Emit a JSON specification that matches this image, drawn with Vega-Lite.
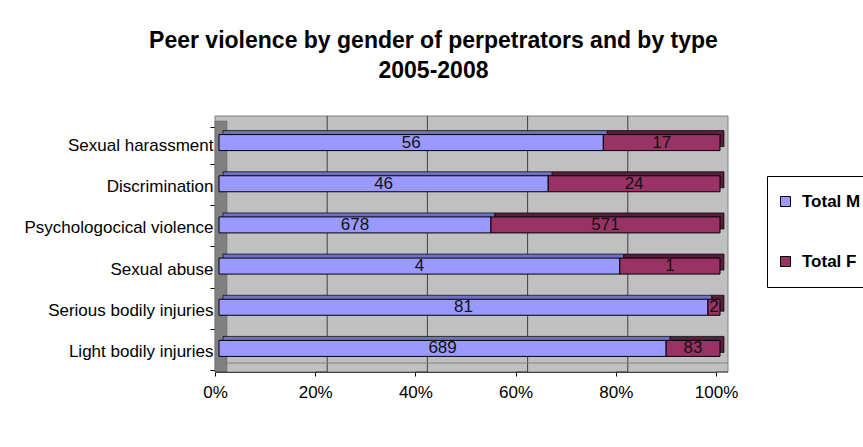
{
  "$schema": "https://vega.github.io/schema/vega-lite/v6.json",
  "width": 501,
  "height": 247,
  "autosize": {"type": "none"},
  "padding": {"left": 215, "top": 125, "right": 147, "bottom": 75},
  "background": "white",
  "title": {
    "text": ["Peer violence by gender of perpetrators and by type", "2005-2008"],
    "anchor": "middle",
    "frame": "group",
    "dx": -32,
    "offset": 33,
    "font": "Liberation Sans",
    "fontSize": 23,
    "fontWeight": "bold",
    "color": "black",
    "lineHeight": 30
  },
  "datasets": {
    "counts": [
      {"type": "Sexual harassment", "sex": "Total M", "n": 56},
      {"type": "Sexual harassment", "sex": "Total F", "n": 17},
      {"type": "Discrimination", "sex": "Total M", "n": 46},
      {"type": "Discrimination", "sex": "Total F", "n": 24},
      {"type": "Psychologocical violence", "sex": "Total M", "n": 678},
      {"type": "Psychologocical violence", "sex": "Total F", "n": 571},
      {"type": "Sexual abuse", "sex": "Total M", "n": 4},
      {"type": "Sexual abuse", "sex": "Total F", "n": 1},
      {"type": "Serious bodily injuries", "sex": "Total M", "n": 81},
      {"type": "Serious bodily injuries", "sex": "Total F", "n": 2},
      {"type": "Light bodily injuries", "sex": "Total M", "n": 689},
      {"type": "Light bodily injuries", "sex": "Total F", "n": 83}
    ],
    "ticks": [{"t": 0}, {"t": 0.2}, {"t": 0.4}, {"t": 0.6}, {"t": 0.8}, {"t": 1}],
    "inner": [{"t": 0.2}, {"t": 0.4}, {"t": 0.6}, {"t": 0.8}],
    "one": [{}]
  },
  "config": {
    "view": {"stroke": null},
    "font": "Liberation Sans",
    "axis": {
      "labelFont": "Liberation Sans",
      "labelFontSize": 17,
      "labelColor": "black",
      "domainColor": "black",
      "tickColor": "black",
      "title": null,
      "grid": false
    },
    "legend": {
      "orient": "none",
      "legendX": 552,
      "legendY": 51,
      "title": null,
      "strokeColor": "black",
      "fillColor": "white",
      "padding": 17,
      "labelFont": "Liberation Sans",
      "labelFontSize": 17,
      "labelFontWeight": "bold",
      "labelColor": "black",
      "symbolType": "square",
      "symbolSize": 100,
      "symbolStrokeWidth": 1,
      "symbolStrokeColor": "black",
      "rowPadding": 42,
      "labelOffset": 8,
      "symbolOffset": -7
    }
  },
  "layer": [
    {
      "data": {"name": "one"},
      "mark": {"type": "rect", "fill": "#C0C0C0", "stroke": "#808080", "strokeWidth": 1, "xOffset": 12, "x2Offset": 12, "yOffset": -9, "y2Offset": 0},
      "encoding": {}
    },
    {
      "data": {"name": "one"},
      "mark": {"type": "rect", "fill": "#808080", "stroke": "#606060", "strokeWidth": 0.5, "x2Offset": 12, "yOffset": -4, "y2Offset": -5},
      "encoding": {
        "x": {"datum": 0, "type": "quantitative"},
        "x2": {"datum": 0}
      }
    },
    {
      "data": {"name": "inner"},
      "mark": {"type": "rule", "color": "#404040", "strokeWidth": 1, "xOffset": 12, "yOffset": -9, "y2Offset": -9},
      "encoding": {"x": {"field": "t", "type": "quantitative"}}
    },
    {
      "data": {"name": "ticks"},
      "mark": {"type": "rule", "color": "#404040", "strokeWidth": 1, "y": "height", "y2": "height", "y2Offset": -9, "x2Offset": 12},
      "encoding": {
        "x": {"field": "t", "type": "quantitative"},
        "x2": {"field": "t"}
      }
    },
    {
      "data": {"name": "one"},
      "mark": {"type": "rule", "color": "#808080", "strokeWidth": 1, "y": "height", "yOffset": -9, "xOffset": 12, "x2Offset": 12},
      "encoding": {
        "x": {"datum": 0, "type": "quantitative"},
        "x2": {"datum": 1}
      }
    },
    {
      "data": {"name": "counts"},
      "transform": [
        {"stack": "n", "groupby": ["type"], "offset": "normalize", "as": ["x0", "x1"], "sort": [{"field": "sex", "order": "descending"}]}
      ],
      "mark": {"type": "bar", "height": 16, "xOffset": 8, "x2Offset": 8, "yOffset": -7, "stroke": "black", "strokeWidth": 0.7},
      "encoding": {
        "y": {
          "field": "type",
          "type": "nominal",
          "sort": ["Sexual harassment", "Discrimination", "Psychologocical violence", "Sexual abuse", "Serious bodily injuries", "Light bodily injuries"]
        },
        "x": {"field": "x0", "type": "quantitative"},
        "x2": {"field": "x1"},
        "fill": {
          "condition": {"test": "datum.sex === 'Total M'", "value": "#7070C8"},
          "value": "#5A1E3C"
        }
      }
    },
    {
      "data": {"name": "counts"},
      "transform": [
        {"stack": "n", "groupby": ["type"], "offset": "normalize", "as": ["x0", "x1"], "sort": [{"field": "sex", "order": "descending"}]}
      ],
      "mark": {"type": "bar", "height": 16, "xOffset": 4, "x2Offset": 4, "yOffset": -3, "stroke": "black", "strokeWidth": 1, "opacity": 1},
      "encoding": {
        "y": {
          "field": "type",
          "type": "nominal",
          "sort": ["Sexual harassment", "Discrimination", "Psychologocical violence", "Sexual abuse", "Serious bodily injuries", "Light bodily injuries"],
          "axis": {"tickBand": "extent", "tickSize": 5, "labelPadding": -3, "labelLimit": 300}
        },
        "x": {
          "field": "x0",
          "type": "quantitative",
          "scale": {"domain": [0, 1], "nice": false},
          "axis": {"values": [0, 0.2, 0.4, 0.6, 0.8, 1], "format": ".0%", "tickSize": 4, "labelPadding": 8, "labelFlush": false}
        },
        "x2": {"field": "x1"},
        "color": {
          "field": "sex",
          "type": "nominal",
          "scale": {"domain": ["Total M", "Total F"], "range": ["#9999FF", "#993366"]}
        }
      }
    },
    {
      "data": {"name": "counts"},
      "transform": [
        {"stack": "n", "groupby": ["type"], "offset": "normalize", "as": ["x0", "x1"], "sort": [{"field": "sex", "order": "descending"}]},
        {"calculate": "(datum.x0 + datum.x1) / 2", "as": "mid"}
      ],
      "mark": {"type": "text", "font": "Liberation Sans", "fontSize": 17, "color": "#111111", "baseline": "middle", "align": "center", "xOffset": 4, "yOffset": -3},
      "encoding": {
        "y": {
          "field": "type",
          "type": "nominal",
          "sort": ["Sexual harassment", "Discrimination", "Psychologocical violence", "Sexual abuse", "Serious bodily injuries", "Light bodily injuries"]
        },
        "x": {"field": "mid", "type": "quantitative"},
        "text": {"field": "n", "type": "quantitative"}
      }
    }
  ]
}
